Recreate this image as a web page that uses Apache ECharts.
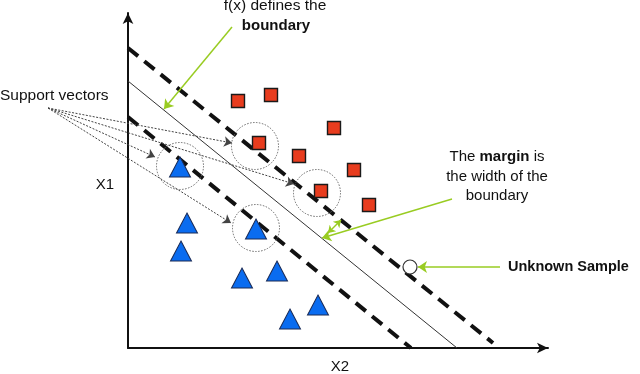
<!DOCTYPE html>
<html>
<head>
<meta charset="utf-8">
<script src="https://cdn.jsdelivr.net/npm/echarts@6/dist/echarts.min.js"></script>
<style>
html,body{margin:0;padding:0;background:#fff;}
#chart{width:640px;height:374px;}
</style>
</head>
<body>
<div id="chart"></div>
<script>
// Data coordinates: X2 (horizontal), X1 (vertical)
const redSquares = [[110,247],[143,253],[131,205],[171,192],[206,220],[226,178],[193,157],[241,143]];
const blueTriangles = [[52,181],[59,125],[53,97],[128,119],[114,70],[149,77],[162,29],[190,43]];
const supportVectors = [[52,182],[128,120],[127,202],[189,155]];
const unknownSample = [[282,81]];
const marginUpper = [[0,300],[365,5]];
const boundaryLine = [[0,267],[329,0]];
const marginLower = [[0,231],[283,0]];
const supportOrigin = [-80,240];
const supportTargets = [[104,205],[27,191],[166,164],[103,125]];
const greenArrows = [
  [[104,321],[36,239]],
  [[324,149],[194,110]],
  [[372,81],[290,81]]
];
const marginArrow = [[213,128],[200,115]];

const FONT = "'Liberation Sans', Arial, sans-serif";
const chart = echarts.init(document.getElementById('chart'));

const axisCommon = {
  type: 'value',
  axisLine: {show: true, symbol: ['none','arrow'], symbolSize: [8,11], lineStyle: {color: '#111', width: 2}},
  axisTick: {show: false},
  axisLabel: {show: false},
  splitLine: {show: false}
};

chart.setOption({
  animation: false,
  backgroundColor: '#fff',
  grid: {left: 128, top: 13, right: 92, bottom: 26},
  xAxis: Object.assign({min: 0, max: 420}, axisCommon),
  yAxis: Object.assign({min: 0, max: 335}, axisCommon),
  series: [
    {
      type: 'lines', coordinateSystem: 'cartesian2d', polyline: false, silent: true, z: 2,
      lineStyle: {color: '#111', width: 4, type: [13,8], cap: 'butt', opacity: 1},
      data: [{coords: marginUpper}, {coords: marginLower}]
    },
    {
      type: 'lines', coordinateSystem: 'cartesian2d', silent: true, z: 2,
      lineStyle: {color: '#333', width: 1, opacity: 1},
      data: [{coords: boundaryLine}]
    },
    {
      type: 'lines', coordinateSystem: 'cartesian2d', silent: true, clip: false, z: 3,
      symbol: ['none','arrow'], symbolSize: 8,
      lineStyle: {color: '#444', width: 1, type: [2,1.5], opacity: 1},
      data: supportTargets.map(t => ({coords: [supportOrigin, t]}))
    },
    {
      type: 'lines', coordinateSystem: 'cartesian2d', silent: true, clip: false, z: 3,
      symbol: ['none','arrow'], symbolSize: 9,
      lineStyle: {color: '#99cc22', width: 1.5, opacity: 1},
      data: greenArrows.map(c => ({coords: c}))
    },
    {
      type: 'lines', coordinateSystem: 'cartesian2d', silent: true, z: 3,
      symbol: ['arrow','arrow'], symbolSize: 7,
      lineStyle: {color: '#99cc22', width: 1.5, opacity: 1},
      data: [{coords: marginArrow}]
    },
    {
      type: 'scatter', data: supportVectors, symbol: 'circle', symbolSize: 47, silent: true, z: 4,
      itemStyle: {color: 'rgba(0,0,0,0)', borderColor: '#666', borderWidth: 1, borderType: [1.5,1.5], opacity: 1}
    },
    {
      type: 'scatter', data: redSquares, symbol: 'rect', symbolSize: 13, silent: true, z: 5,
      itemStyle: {color: '#e83c1e', borderColor: '#1a1a1a', borderWidth: 1.4, opacity: 1}
    },
    {
      type: 'scatter', data: blueTriangles, symbol: 'triangle', symbolSize: [21,20], silent: true, z: 5,
      itemStyle: {color: '#0a6cf0', borderColor: '#1a2a55', borderWidth: 1, opacity: 1}
    },
    {
      type: 'scatter', data: unknownSample, symbol: 'circle', symbolSize: 14, silent: true, z: 5,
      itemStyle: {color: '#fff', borderColor: '#333', borderWidth: 1.2, opacity: 1}
    }
  ],
  graphic: [
    {type: 'text', x: 275, y: 6, style: {text: 'f(x) defines the', font: '15.5px ' + FONT, fill: '#111', align: 'center', verticalAlign: 'middle'}},
    {type: 'text', x: 276, y: 26, style: {text: 'boundary', font: 'bold 15px ' + FONT, fill: '#111', align: 'center', verticalAlign: 'middle'}},
    {type: 'text', x: 0, y: 96, style: {text: 'Support vectors', font: '15.5px ' + FONT, fill: '#111', align: 'left', verticalAlign: 'middle'}},
    {type: 'text', x: 105, y: 185, style: {text: 'X1', font: '15px ' + FONT, fill: '#111', align: 'center', verticalAlign: 'middle'}},
    {type: 'text', x: 340, y: 367, style: {text: 'X2', font: '15px ' + FONT, fill: '#111', align: 'center', verticalAlign: 'middle'}},
    {type: 'text', x: 497, y: 157, style: {
      text: '{n|The }{b|margin}{n| is}', align: 'center', verticalAlign: 'middle',
      rich: {n: {font: '15px ' + FONT, fill: '#111'}, b: {font: 'bold 15px ' + FONT, fill: '#111'}}
    }},
    {type: 'text', x: 497, y: 177, style: {text: 'the width of the', font: '15px ' + FONT, fill: '#111', align: 'center', verticalAlign: 'middle'}},
    {type: 'text', x: 497, y: 196, style: {text: 'boundary', font: '15px ' + FONT, fill: '#111', align: 'center', verticalAlign: 'middle'}},
    {type: 'text', x: 508, y: 267, style: {text: 'Unknown Sample', font: 'bold 14.5px ' + FONT, fill: '#111', align: 'left', verticalAlign: 'middle'}}
  ]
});
</script>
</body>
</html>
